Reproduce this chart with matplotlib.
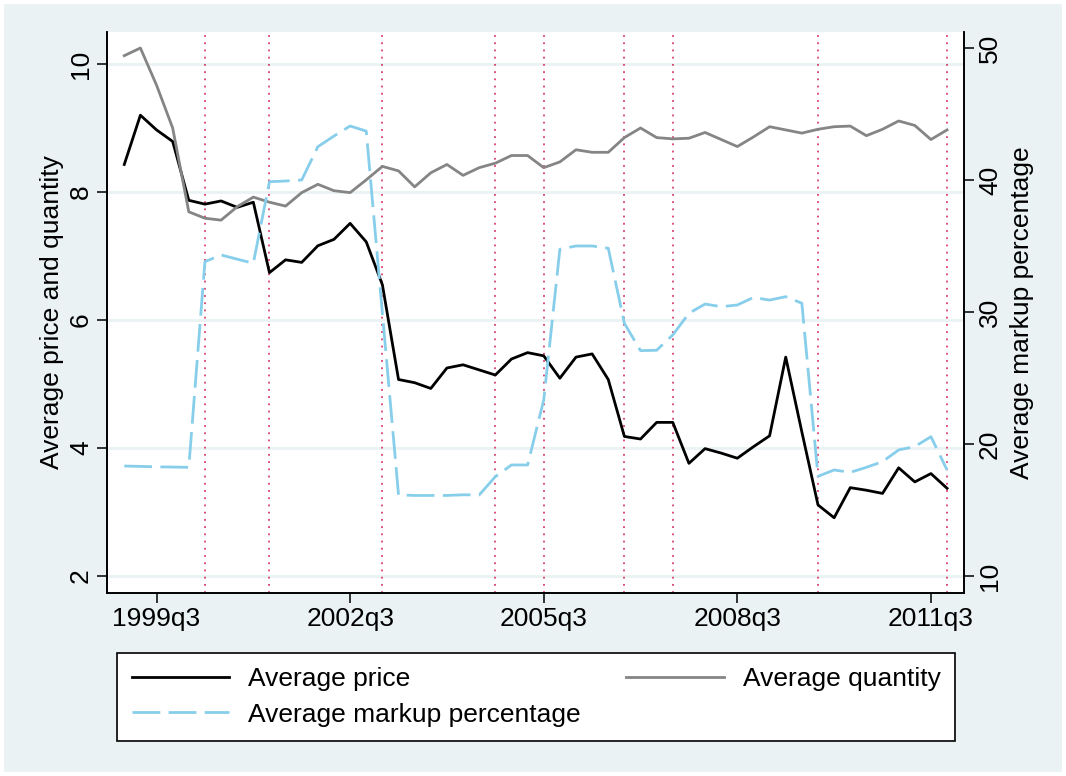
import matplotlib
matplotlib.use("Agg")
import matplotlib.pyplot as plt
from matplotlib.patches import Rectangle

plt.rcParams['font.family'] = ['Liberation Sans', 'DejaVu Sans']

quarters = [f"{y}q{q}" for y in range(1999, 2012) for q in range(1, 5)]

price = [8.43, 9.20, 8.97, 8.79, 7.87, 7.81, 7.86, 7.76, 7.84, 6.74,
         6.94, 6.90, 7.16, 7.26, 7.51, 7.22, 6.55, 5.07, 5.02, 4.93,
         5.25, 5.30, 5.22, 5.14, 5.39, 5.49, 5.44, 5.09, 5.42, 5.47,
         5.07, 4.18, 4.14, 4.40, 4.40, 3.76, 3.99, 3.92, 3.84, 4.02,
         4.19, 5.42, 4.25, 3.11, 2.91, 3.38, 3.34, 3.29, 3.69, 3.47,
         3.60, 3.37]

quantity = [10.13, 10.25, 9.67, 9.00, 7.69, 7.59, 7.56, 7.77, 7.92, 7.84,
            7.78, 7.99, 8.12, 8.02, 7.99, 8.19, 8.40, 8.33, 8.08, 8.30,
            8.43, 8.26, 8.38, 8.45, 8.57, 8.57, 8.38, 8.47, 8.66, 8.62,
            8.62, 8.85, 9.00, 8.85, 8.83, 8.84, 8.93, 8.82, 8.71, 8.86,
            9.02, 8.97, 8.92, 8.98, 9.02, 9.03, 8.88, 8.98, 9.11, 9.04,
            8.82, 8.97]

markup = [18.33, 18.30, 18.27, 18.25, 18.23, 33.81, 34.32, 34.00, 33.69, 39.87,
          39.92, 40.00, 42.52, 43.33, 44.09, 43.70, 29.90, 16.14, 16.10, 16.10,
          16.10, 16.15, 16.14, 17.52, 18.41, 18.41, 23.33, 34.75, 35.00, 35.00,
          34.83, 29.14, 27.07, 27.10, 28.26, 29.90, 30.60, 30.40, 30.53, 31.10,
          30.90, 31.16, 30.66, 17.55, 18.03, 17.85, 18.23, 18.66, 19.55, 19.80,
          20.55, 18.03]

tick_quarters = ["1999q3", "2002q3", "2005q3", "2008q3", "2011q3"]
event_quarters = ["2000q2", "2001q2", "2003q1", "2004q4", "2005q3",
                  "2006q4", "2007q3", "2009q4", "2011q4"]

t = list(range(len(quarters)))
bg = '#eaf2f3'

fig = plt.figure(figsize=(10.66, 7.76), dpi=100, facecolor='white')
fig.patches.append(Rectangle((4 / 1066, 4 / 776), 1 - 8 / 1066, 1 - 8 / 776,
                             transform=fig.transFigure, facecolor=bg,
                             edgecolor='none', zorder=-10))

ax = fig.add_axes([107 / 1066, 1 - 593 / 776, 857 / 1066, 561 / 776])
ax.set_facecolor('white')

for yv in [2, 4, 6, 8, 10]:
    ax.axhline(yv, color=bg, lw=2, zorder=1)
for q in event_quarters:
    ax.axvline(quarters.index(q), color='#d8406a', lw=1.3,
               linestyle=(0, (1, 3)), zorder=2)

l1, = ax.plot(t, price, color='black', lw=2, label='Average price', zorder=4)
l2, = ax.plot(t, quantity, color='#858585', lw=2, label='Average quantity', zorder=4)

ax2 = ax.twinx()
l3, = ax2.plot(t, markup, color='#87ceeb', lw=2, linestyle=(0, (10, 3)),
               label='Average markup percentage', zorder=4)

ax.set_xlim(-1.07, 52.05)
ax.set_ylim(1.734, 10.5)
ax2.set_ylim(8.71, 51.21)

ax.set_yticks([2, 4, 6, 8, 10])
ax2.set_yticks([10, 20, 30, 40, 50])
ax.set_xticks([quarters.index(q) for q in tick_quarters])
ax.set_xticklabels(tick_quarters)

for a in (ax, ax2):
    a.spines['top'].set_visible(False)
    for s in ['left', 'right', 'bottom']:
        a.spines[s].set_linewidth(1.2)
        a.spines[s].set_color('black')
    a.tick_params(length=7, width=1.1, labelsize=19, pad=3)

ax.tick_params(axis='y', labelrotation=90)
ax2.tick_params(axis='y', labelrotation=90)
for lab in ax.get_yticklabels() + ax2.get_yticklabels():
    lab.set_va('center')

ax.set_ylabel('Average price and quantity', fontsize=19, labelpad=4)
ax2.set_ylabel('Average markup percentage', fontsize=19, labelpad=6)

leg = fig.legend([l1, l3, l2],
                 ['Average price', 'Average markup percentage', 'Average quantity'],
                 ncol=2, mode='expand', loc='center', borderaxespad=0,
                 bbox_to_anchor=(117 / 1066, 1 - 742 / 776, 838 / 1066, 90 / 776),
                 bbox_transform=fig.transFigure, fontsize=19,
                 handlelength=3.7, handletextpad=0.7, labelspacing=0.43,
                 borderpad=0.55, fancybox=False, framealpha=1,
                 edgecolor='black')
leg.get_frame().set_linewidth(1.2)

fig.savefig('out.png', dpi=100, facecolor=fig.get_facecolor())
